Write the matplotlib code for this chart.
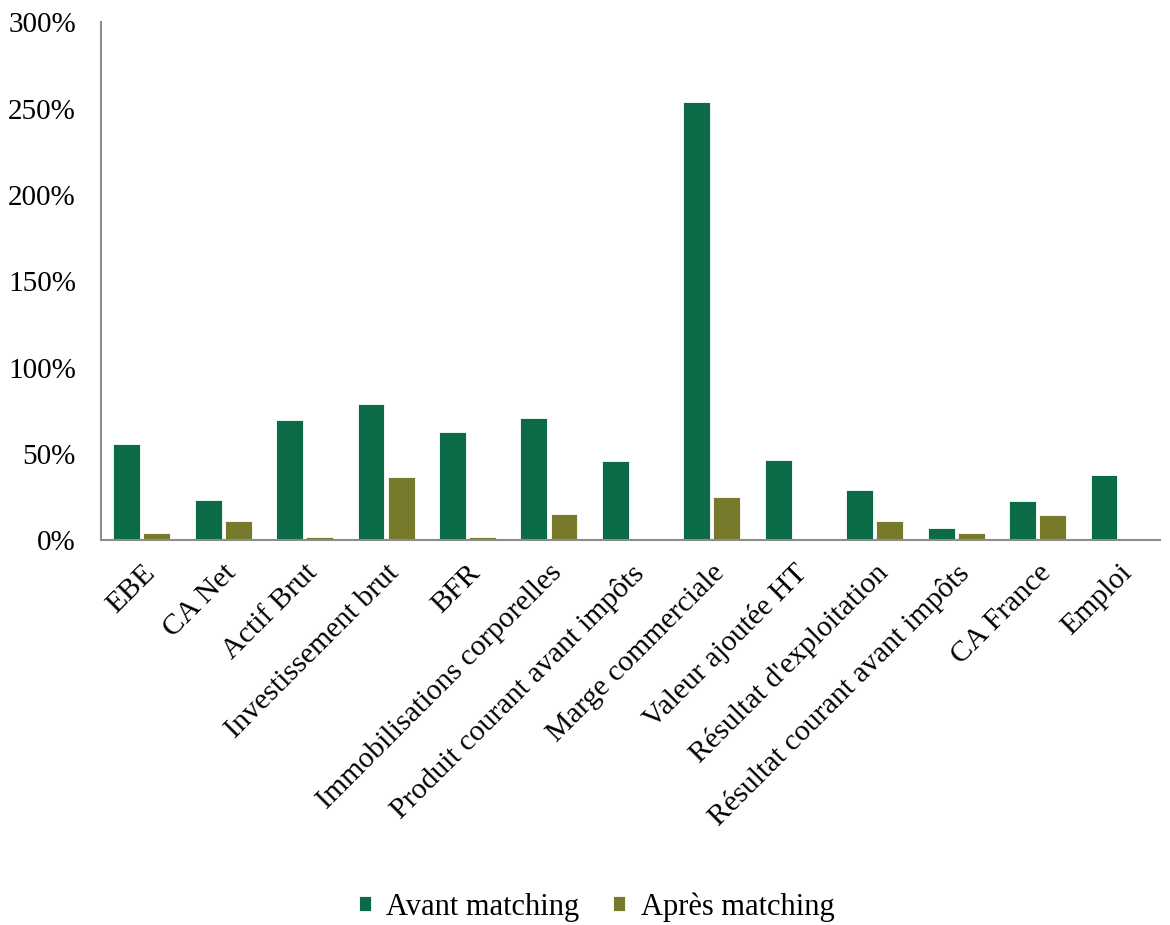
import numpy as np
import matplotlib.pyplot as plt
from matplotlib.ticker import PercentFormatter

categories = ["EBE", "CA Net", "Actif Brut", "Investissement brut", "BFR",
              "Immobilisations corporelles", "Produit courant avant impôts",
              "Marge commerciale", "Valeur ajoutée HT", "Résultat d'exploitation",
              "Résultat courant avant impôts", "CA France", "Emploi"]
avant = [55.6, 23, 69.5, 78.8, 62.5, 71, 45.8, 254, 46.3, 29, 7, 22.6, 38]
apres = [4, 11, 2, 36.5, 2, 15, 0, 25, 0, 11, 4, 14.5, 0]

plt.rcParams['font.family'] = ['Liberation Serif', 'DejaVu Serif']

fig = plt.figure(figsize=(11.7, 9.25), dpi=100)
ax = fig.add_axes([0.0863, 0.416, 0.905, 0.56])

x = np.arange(len(categories))
w = 0.33
ax.bar(x - w / 2 - 0.02, avant, w, color="#0B6B47", edgecolor="white", linewidth=0.6,
       label="Avant matching")
ax.bar(x + w / 2 + 0.02, apres, w, color="#767A2A", edgecolor="white", linewidth=0.6,
       label="Après matching")

ax.set_xlim(-0.5, len(categories) - 0.5)
ax.set_ylim(0, 300)
ax.set_yticks(np.arange(0, 301, 50))
ax.yaxis.set_major_formatter(PercentFormatter(decimals=0))
ax.set_xticks(x)
ax.set_xticklabels(categories, rotation=45, ha="right", rotation_mode="anchor")
ax.tick_params(axis="y", length=0, labelsize=21, pad=18)
ax.tick_params(axis="x", length=0, labelsize=21.5, pad=14)

for s in ["top", "right"]:
    ax.spines[s].set_visible(False)
for s in ["left", "bottom"]:
    ax.spines[s].set_color("#8c8c8c")
    ax.spines[s].set_linewidth(1.5)

fig.legend(loc="lower center", bbox_to_anchor=(0.51, -0.026), ncol=2, frameon=False,
           fontsize=22, handlelength=0.4, handleheight=0.4, columnspacing=1.1,
           handletextpad=0.5)

fig.savefig("out.png")
